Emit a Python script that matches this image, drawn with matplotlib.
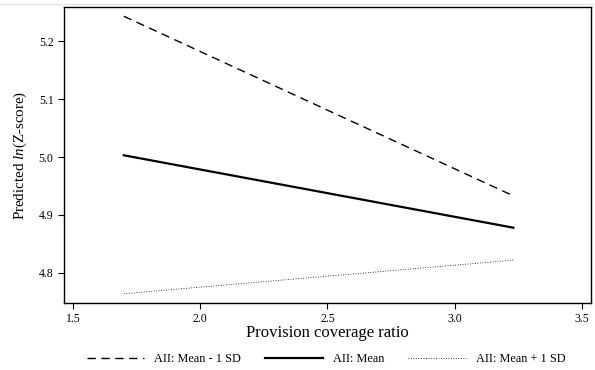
import matplotlib.pyplot as plt
from matplotlib.lines import Line2D

plt.rcParams['font.family'] = ['Liberation Serif', 'DejaVu Serif']
plt.rcParams['mathtext.fontset'] = 'custom'
plt.rcParams['mathtext.it'] = 'Liberation Serif:italic'
plt.rcParams['mathtext.rm'] = 'Liberation Serif'

# predicted values at the two ends of the provision coverage range
x = [1.70, 3.23]
low_sd = [5.243, 4.933]
mean = [5.003, 4.878]
high_sd = [4.764, 4.822]
labels = ['AII: Mean - 1 SD', 'AII: Mean', 'AII: Mean + 1 SD']

fig = plt.figure(figsize=(5.95, 3.7), dpi=100)
ax = fig.add_axes([64/595, 1 - 303/370, 527/595, 296/370])

ax.plot(x, low_sd, color='black', lw=1.0, ls=(0, (6, 4)), label=labels[0])
ax.plot(x, mean, color='black', lw=1.6, label=labels[1])
ax.plot(x, high_sd, color='black', lw=0.6, ls=(0, (1, 2)), label=labels[2])

ax.set_xlim(1.465, 3.535)
ax.set_ylim(4.748, 5.259)
ax.set_xticks([1.5, 2.0, 2.5, 3.0, 3.5])
ax.set_yticks([4.8, 4.9, 5.0, 5.1, 5.2])
ax.tick_params(labelsize=8.5, length=4, width=0.8, direction='out')
for s in ax.spines.values():
    s.set_linewidth(1.0)

ax.set_xlabel('Provision coverage ratio', fontsize=12, labelpad=0)
ax.set_ylabel('Predicted $\\mathit{ln}$(Z-score)', fontsize=10.8, labelpad=7)

fig.legend(loc='center', bbox_to_anchor=(326/595, 1 - 359/370), ncol=3,
           frameon=False, fontsize=8.8, handlelength=4.7, handletextpad=0.8,
           columnspacing=2.0)

# faint border line at the top of the image
fig.add_artist(Line2D([0, 1], [1 - 3.5/370, 1 - 3.5/370], color='#e4e4e4',
                      lw=1.0, transform=fig.transFigure))

fig.savefig('out.png', dpi=100)
